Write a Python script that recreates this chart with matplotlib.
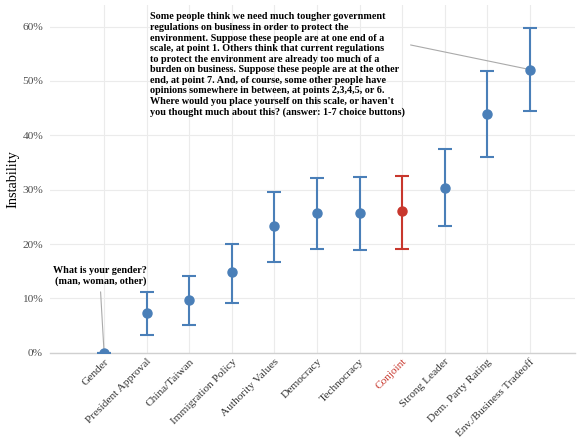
import numpy as np
import matplotlib
matplotlib.use('Agg')
import matplotlib.pyplot as plt
from matplotlib.ticker import PercentFormatter

plt.rcParams['font.family'] = ['Liberation Serif', 'DejaVu Serif']

# Data
labels = ['Gender', 'President Approval', 'China/Taiwan', 'Immigration Policy',
          'Authority Values', 'Democracy', 'Technocracy', 'Conjoint',
          'Strong Leader', 'Dem. Party Rating', 'Env./Business Tradeoff']
est = [0.0, 0.073, 0.0975, 0.149, 0.234, 0.258, 0.258, 0.260, 0.304, 0.440, 0.521]
low = [0.0, 0.033, 0.052, 0.092, 0.167, 0.191, 0.190, 0.191, 0.234, 0.361, 0.444]
high = [0.0, 0.112, 0.142, 0.201, 0.296, 0.322, 0.324, 0.326, 0.374, 0.519, 0.598]

blue = '#4a7fb8'
red = '#c8372d'
colors = [red if l == 'Conjoint' else blue for l in labels]

gender_q = 'What is your gender?\n(man, woman, other)'
env_q = ("Some people think we need much tougher government\n"
         "regulations on business in order to protect the\n"
         "environment. Suppose these people are at one end of a\n"
         "scale, at point 1. Others think that current regulations\n"
         "to protect the environment are already too much of a\n"
         "burden on business. Suppose these people are at the other\n"
         "end, at point 7. And, of course, some other people have\n"
         "opinions somewhere in between, at points 2,3,4,5, or 6.\n"
         "Where would you place yourself on this scale, or haven't\n"
         "you thought much about this? (answer: 1-7 choice buttons)")

fig = plt.figure(figsize=(5.79, 4.40), dpi=100)
ax = fig.add_axes([0.0864, 0.198, 0.9066, 0.791])

x = np.arange(len(labels))
for i in range(len(labels)):
    ax.errorbar(x[i], est[i], yerr=[[est[i] - low[i]], [high[i] - est[i]]],
                fmt='o', color=colors[i], ms=6.5, lw=1.5, capsize=5,
                capthick=1.5, zorder=3, clip_on=True)

ax.set_xlim(-1.27, 11.06)
ax.set_ylim(0, 0.64)
ax.set_yticks([0, 0.1, 0.2, 0.3, 0.4, 0.5, 0.6])
ax.yaxis.set_major_formatter(PercentFormatter(1.0, decimals=0))
ax.set_xticks(x)
ax.set_xticklabels(labels, rotation=45, ha='right', rotation_mode='anchor',
                   fontsize=8.2)
for t, c in zip(ax.get_xticklabels(), colors):
    t.set_color(c if c == red else '#333333')
ax.tick_params(axis='x', length=0, pad=3)
ax.tick_params(axis='y', length=0, pad=5, labelsize=8.2, labelcolor='#4d4d4d')
ax.set_ylabel('Instability', fontsize=10.3, labelpad=2)

ax.grid(True, color='#ebebeb', lw=0.8, zorder=0)
ax.set_axisbelow(True)
for s in ['left', 'right', 'top']:
    ax.spines[s].set_visible(False)
ax.spines['bottom'].set_color('#d0d0d0')
ax.spines['bottom'].set_linewidth(1.0)

ax.annotate(gender_q, xy=(0, 0.0), xytext=(-0.09, 0.141), ha='center',
            va='center', fontsize=7.3, fontweight='bold', linespacing=1.22,
            arrowprops=dict(arrowstyle='-', color='#aaaaaa', lw=0.8,
                            relpos=(0.5, 0.0), shrinkA=2, shrinkB=0))
ax.annotate(env_q, xy=(10, est[10]), xytext=(1.08, 0.626), ha='left',
            va='top', fontsize=7.3, fontweight='bold', linespacing=1.22,
            arrowprops=dict(arrowstyle='-', color='#aaaaaa', lw=0.8,
                            relpos=(1.0, 0.7), shrinkA=2, shrinkB=0))

fig.savefig('out.png', dpi=100)
